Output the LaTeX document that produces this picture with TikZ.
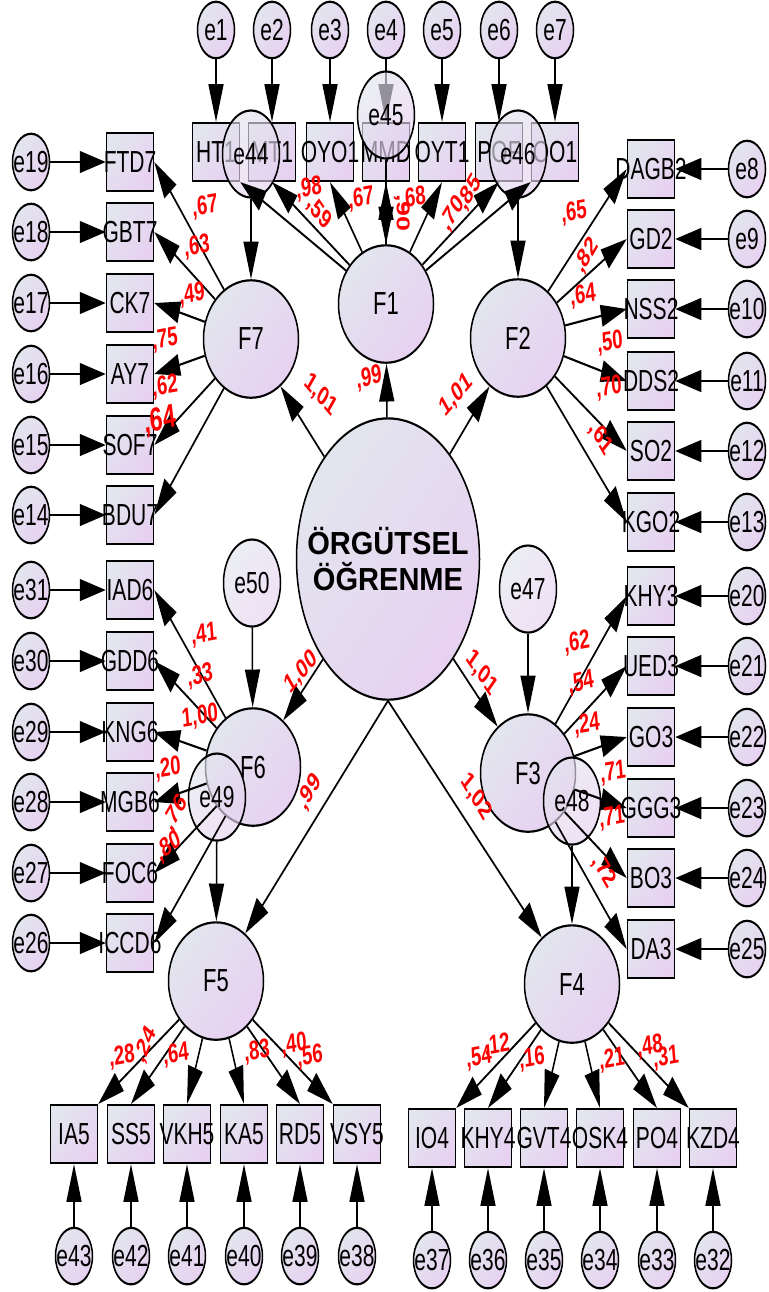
\documentclass[tikz,border=0pt]{standalone}
\usepackage{fontspec}
\setmainfont{Liberation Sans}
\usetikzlibrary{shapes.geometric,arrows.meta}

\definecolor{shadeA}{RGB}{226,229,238}
\definecolor{shadeB}{RGB}{231,209,241}
\definecolor{loadred}{RGB}{255,0,0}

\tikzstyle{blob} = [draw=black,line width=1.5pt,top color=shadeA,bottom color=shadeB,shading angle=45,inner sep=0pt,font=\fontsize{21}{21}\selectfont]
\tikzstyle{item} = [blob,rectangle,minimum width=47pt,minimum height=40pt]
\tikzstyle{err} = [blob,ellipse,minimum width=37pt,minimum height=39pt]
\tikzstyle{dist} = [blob,ellipse,minimum width=57pt,minimum height=60pt,fill opacity=0.65,text opacity=1]
\tikzstyle{fac} = [blob,ellipse,minimum width=95pt,minimum height=81pt,font=\fontsize{22}{22}\selectfont]
\tikzstyle{org} = [blob,ellipse,minimum width=183pt,minimum height=194pt,align=center,font=\fontsize{22}{25}\selectfont\bfseries]
\tikzstyle{wt} = [text=loadred,inner sep=0pt,font=\fontsize{18.5}{18.5}\selectfont\bfseries]

\newcommand{\nm}[1]{\makebox[0pt]{#1}}

\begin{document}
\begin{tikzpicture}[x=1pt,y=-1pt]
\path[use as bounding box,fill=white] (0,0) rectangle (768,1292);

\begin{scope}[transform canvas={yscale=1.45},y=-0.6897pt,->,>={Triangle[length=26pt,width=15pt]},line width=1.5pt]

% observed variables with their errors
\foreach \n/\x [count=\i] in {HT1/216,MT1/272,OYO1/330,MMD/386,OYT1/442,POF/499,OO1/555}
{
  \node (\n) [item] at (\x,152) {\nm{\n}};
  \node (e\i) [err] at (\x,30) {\nm{e\i}};
  \draw (e\i) -- (\n);
}
\foreach \n/\y/\e in {FTD7/162/19,GBT7/232/18,CK7/303/17,AY7/374/16,SOF7/445/15,BDU7/515/14,IAD6/590/31,GDD6/661/30,KNG6/732/29,MGB6/802/28,FOC6/873/27,ICCD6/943/26}
{
  \node (\n) [item] at (130,\y) {\nm{\n}};
  \node (e\e) [err] at (31,\y) {\nm{e\e}};
  \draw (e\e) -- (\n);
}
\foreach \n/\y/\e in {DAGB2/169/8,GD2/239/9,NSS2/309/10,DDS2/381/11,SO2/451/12,KGO2/522/13,KHY3/596/20,UED3/666/21,GO3/737/22,GGG3/808/23,BO3/878/24,DA3/949/25}
{
  \node (\n) [item] at (651,\y) {\nm{\n}};
  \node (e\e) [err] at (747,\y) {\nm{e\e}};
  \draw (e\e) -- (\n);
}
\foreach \n/\x/\y/\e in {IA5/74/1134/43,SS5/131/1134/42,VKH5/187/1134/41,KA5/244/1134/40,RD5/300/1134/39,VSY5/357/1134/38,IO4/432/1138/37,KHY4/488/1138/36,GVT4/544/1138/35,OSK4/600/1138/34,PO4/657/1138/33,KZD4/713/1138/32}
{
  \node (\n) [item] at (\x,\y) {\nm{\n}};
  \node (e\e) [err] at (\x,\y+122) {\nm{e\e}};
  \draw (e\e) -- (\n);
}

% factors
\node (F1) [fac] at (386,304) {F1};
\node (F2) [fac] at (518,338) {F2};
\node (F3) [fac] at (528,773) {F3};
\node (F4) [fac] at (572,984) {F4};
\node (F5) [fac] at (216,981) {F5};
\node (F6) [fac] at (253,767) {F6};
\node (F7) [fac] at (251,339) {F7};
\node (ORG) [org] at (388,559) {\nm{\scalebox{1.32}[1]{ÖRGÜTSEL}}\\\nm{\scalebox{1.32}[1]{ÖĞRENME}}};

% disturbances
\node (e44) [dist] at (251,154) {e44};
\node (e45) [dist] at (386,115) {e45};
\node (e46) [dist] at (518,154) {e46};
\node (e50) [dist] at (252,583) {e50};
\node (e47) [dist] at (528,589) {e47};
\node (e49) [dist] at (217,797) {e49};
\node (e48) [dist] at (572,801) {e48};

\draw (e44) -- (F7);
\draw (e45) -- (F1);
\draw (e46) -- (F2);
\draw (e50) -- (F6);
\draw (e47) -- (F3);
\draw (e49) -- (F5);
\draw (e48) -- (F4);

% second order paths
\foreach \f in {F7,F1,F2,F6,F3}
  \draw (ORG) -- (\f);
\draw (ORG.south) -- (F5);
\draw (ORG.south) -- (F4);

% loadings
\foreach \n in {FTD7,GBT7,CK7,AY7,SOF7,BDU7}
  \draw (F7) -- (\n.east);
\foreach \n in {IAD6,GDD6,KNG6,MGB6,FOC6,ICCD6}
  \draw (F6) -- (\n.east);
\foreach \n in {DAGB2,GD2,NSS2,DDS2,SO2,KGO2}
  \draw (F2) -- (\n.west);
\foreach \n in {KHY3,UED3,GO3,GGG3,BO3,DA3}
  \draw (F3) -- (\n.west);
\foreach \n in {HT1.south east,MT1.south,OYO1.south,MMD.south,OYT1.south,POF.south,OO1.south west}
  \draw (F1) -- (\n);
\foreach \n in {IA5.north east,SS5.north,VKH5.north,KA5.north,RD5.north,VSY5.north west}
  \draw (F5) -- (\n);
\foreach \n in {IO4.north east,KHY4.north,GVT4.north,OSK4.north,PO4.north,KZD4.north west}
  \draw (F4) -- (\n);

% estimates
\foreach \t/\x/\y/\r [count=\i] in {{,67}/205/207/7,{,63}/197/247/7,{,49}/192/295/7,{,75}/165/340/7,{,62}/165/387/7,
  {1,01}/321/395/-39,{,99}/369/378/10,{1,01}/456/395/39,{1,00}/301/672/39,{1,01}/482/673/-45,{,99}/310/792/50,{1,02}/476/797/-50,
  {,98}/309/189/7,{,59}/319/213/-45,{,67}/361/199/7,{,90}/402/213/-90,{,68}/413/199/7,{,70}/453/214/50,{,85}/470/193/50,
  {,65}/574/213/7,{,82}/587/256/50,{,64}/583/296/7,{,50}/610/343/7,{,70}/609/388/7,{,61}/601/438/-50,
  {,41}/204/635/7,{,33}/200/676/10,{1,00}/200/717/7,{,20}/168/769/7,{,76}/176/813/50,{,80}/169/847/30,
  {,62}/577/643/7,{,54}/581/683/10,{,24}/587/725/7,{,71}/613/773/7,{,71}/612/818/7,{,72}/604/871/-50,
  {,28}/122/1057/7,{,24}/146/1045/60,{,64}/176/1055/7,{,83}/257/1052/7,{,40}/294/1045/7,{,56}/310/1057/7,
  {,54}/479/1058/7,{,12}/497/1046/7,{,16}/532/1059/7,{,21}/612/1060/7,{,48}/650/1047/7,{,31}/666/1058/7}
  \node (w\i) [wt,rotate=\r] at (\x,\y) {\t};
\node (wbig) [wt,rotate=10,font=\fontsize{23}{23}\selectfont\bfseries] at (160,421) {,64};

\end{scope}
\end{tikzpicture}
\end{document}
